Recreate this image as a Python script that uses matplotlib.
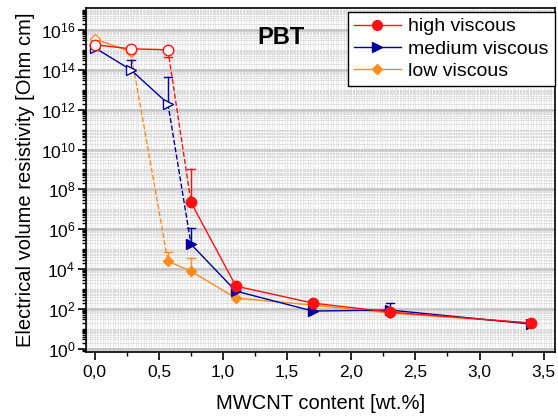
import numpy as np
import matplotlib
matplotlib.use('Agg')
import matplotlib.pyplot as plt
from matplotlib.ticker import MultipleLocator, LogLocator, FixedLocator, NullFormatter


#=============================================================================#
# Data (log10 of resistivity) #
#=============================================================================#
mwcnt = [0.0, 0.28, 0.57, 0.75, 1.1, 1.7, 2.3, 3.4]

high_log = [15.25, 15.05, 15.0, 7.35, 3.15, 2.3, 1.85, 1.3]
medium_log = [15.1, 14.0, 12.3, 5.25, 2.9, 1.9, 1.95, 1.25]
low_log = [15.55, 14.9, 4.4, 3.9, 2.55, 2.2, 1.8, 1.3]

# error bar ends (log10), None = no bar
high_err = [15.0, None, 14.65, 9.0, None, None, None, None]
medium_err = [None, 14.5, 13.65, 6.05, None, None, 2.3, None]
low_err = [None, None, 4.85, 4.55, None, None, None, None]

labels = ['high viscous', 'medium viscous', 'low viscous']
#=============================================================================#

plt.rcParams['font.family'] = ['Liberation Sans', 'DejaVu Sans']
plt.rcParams['mathtext.fontset'] = 'custom'
plt.rcParams['mathtext.rm'] = 'Liberation Sans'
plt.rcParams['mathtext.it'] = 'Liberation Sans:italic'
plt.rcParams['mathtext.bf'] = 'Liberation Sans:bold'

RED = '#ff1010'
BLUE = '#00009c'
ORANGE = '#ff8c1a'

fig = plt.figure(figsize=(5.58, 4.16), dpi=100)
ax = fig.add_axes([0.155, 0.154, 0.84, 0.827])

# background grid (Origin-like texture)
ax.set_axisbelow(True)
ax.vlines(np.arange(-0.06, 3.6, 0.02), 0, 1, transform=ax.get_xaxis_transform(),
          color='#e0e0e0', lw=0.5, zorder=0)
ax.grid(True, which='major', axis='y', color='#c4c4c4', lw=2.0, zorder=0.5)
ax.grid(True, which='minor', axis='y', color='#d6d6d6', lw=0.6, ls=(0, (3, 1)), zorder=0.5)


def draw(xs, ylog, yerr, col, marker, ms, n_open, dash_seg):
    ys = [10 ** v for v in ylog]
    # line segments: dashed for the percolation jump
    for i in range(len(xs) - 1):
        ls = '--' if i == dash_seg else '-'
        ax.plot(xs[i:i + 2], ys[i:i + 2], color=col, lw=1.0, ls=ls, zorder=2)
    # error bars
    for i, e in enumerate(yerr):
        if e is None:
            continue
        ax.plot([xs[i], xs[i]], [ys[i], 10 ** e], color=col, lw=1.0, zorder=2)
        ax.plot([xs[i] - 0.03, xs[i] + 0.03], [10 ** e, 10 ** e], color=col, lw=1.0, zorder=2)
    # markers, first ones hollow
    for i in range(len(xs)):
        fc = 'white' if i < n_open else col
        ax.plot(xs[i], ys[i], marker=marker, ms=ms, mfc=fc, mec=col, mew=1.0,
                ls='none', zorder=3)


draw(mwcnt, low_log, low_err, ORANGE, 'D', 5.5, 2, 1)
draw(mwcnt, medium_log, medium_err, BLUE, '>', 7.5, 3, 2)
draw(mwcnt, high_log, high_err, RED, 'o', 7.5, 3, 2)

# legend handles in the right order
h1, = ax.plot([], [], color=RED, lw=1.0, marker='o', ms=7, mfc=RED, mec=RED)
h2, = ax.plot([], [], color=BLUE, lw=1.0, marker='>', ms=7, mfc=BLUE, mec=BLUE)
h3, = ax.plot([], [], color=ORANGE, lw=1.0, marker='D', ms=5.5, mfc=ORANGE, mec=ORANGE)
leg = ax.legend([h1, h2, h3], labels, loc='upper right', bbox_to_anchor=(1.003, 0.994),
                fontsize=14, frameon=True, fancybox=False, edgecolor='black',
                framealpha=1, handlelength=2.4, borderpad=0.3, labelspacing=0.25,
                handletextpad=0.4, borderaxespad=0.1)
leg.get_frame().set_linewidth(1.0)

ax.text(0.415, 0.915, 'PBT', transform=ax.transAxes, fontsize=17, fontweight='bold',
        ha='center', va='center')

#=============================================================================#
# Axes #
#=============================================================================#
ax.set_yscale('log')
ax.set_xlim(-0.065, 3.59)
ax.set_ylim(10 ** -0.15, 10 ** 17.1)

ax.yaxis.set_major_locator(FixedLocator([10.0 ** k for k in range(0, 17, 2)]))
ax.yaxis.set_minor_locator(LogLocator(base=10, subs=np.arange(1, 10), numticks=40))
ax.yaxis.set_minor_formatter(NullFormatter())
ax.xaxis.set_minor_locator(MultipleLocator(0.25))
xt = np.arange(0, 3.51, 0.5)
ax.set_xticks(xt)
ax.set_xticklabels([('%.1f' % v).replace('.', ',') for v in xt])

ax.tick_params(axis='both', which='major', labelsize=12.5, direction='out', length=6, width=1.2)
ax.tick_params(axis='y', which='major', pad=2)
ax.tick_params(axis='y', which='minor', direction='out', length=3, width=1.0)
ax.tick_params(axis='x', which='minor', direction='out', length=3, width=1.0)
for sp in ax.spines.values():
    sp.set_linewidth(1.2)

ax.set_xlabel('MWCNT content [wt.%]', fontsize=14.5, labelpad=10)
ax.set_ylabel('Electrical volume resistivity [Ohm cm]', fontsize=14.5, labelpad=4)

fig.savefig('out.png', dpi=100)
